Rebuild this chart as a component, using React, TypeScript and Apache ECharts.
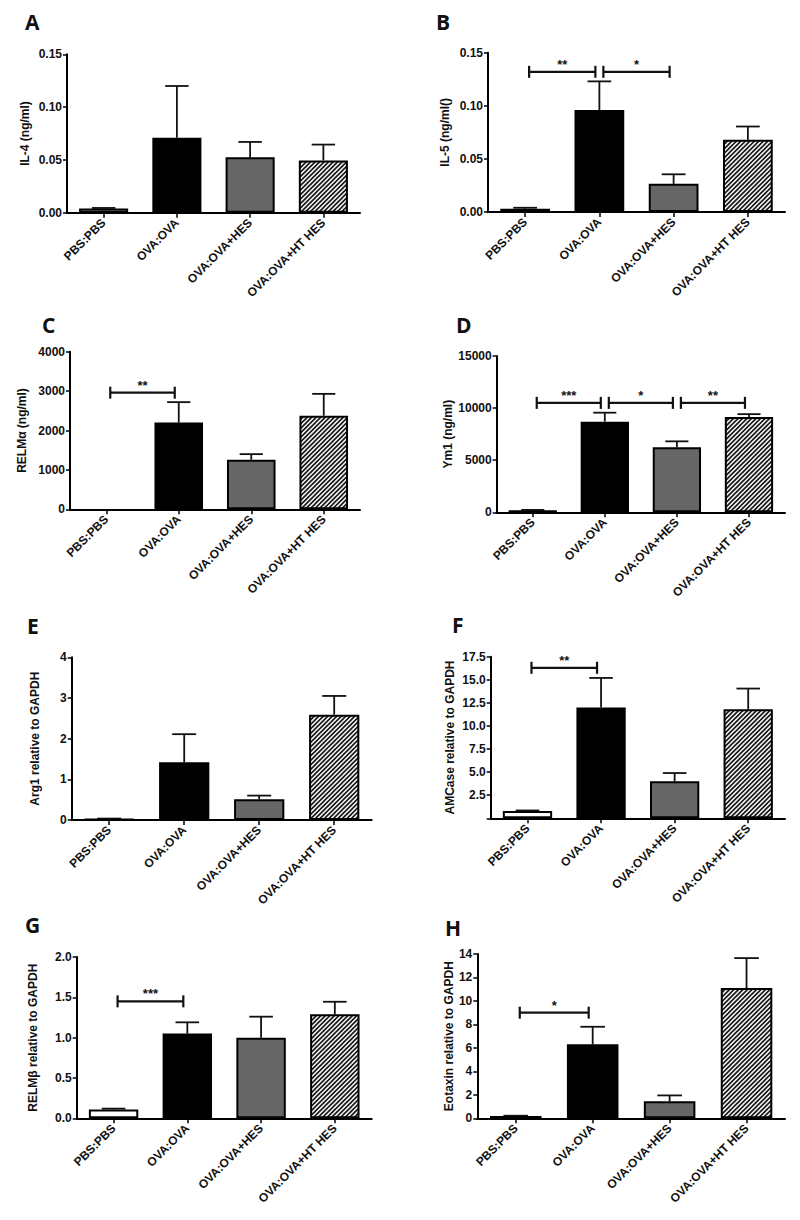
import React, { useEffect, useRef } from 'react';
import * as echarts from 'echarts';

const categories = ['PBS:PBS', 'OVA:OVA', 'OVA:OVA+HES', 'OVA:OVA+HT HES'];

// A: IL-4
const il4Mean = [0.004, 0.071, 0.0525, 0.0495];
const il4Sem = [0.0005, 0.049, 0.0145, 0.015];
// B: IL-5
const il5Mean = [0.003, 0.096, 0.0265, 0.068];
const il5Sem = [0.001, 0.027, 0.009, 0.0125];
const il5Brackets = [[0, 1, 0.132], [1, 2, 0.132]];
const il5Stars = ['**', '*'];
// C: RELMα
const relmaMean = [0, 2200, 1255, 2375];
const relmaSem = [0, 520, 145, 555];
const relmaBrackets = [[0, 1, 2960]];
const relmaStars = ['**'];
// D: Ym1
const ym1Mean = [200, 8700, 6250, 9150];
const ym1Sem = [30, 860, 560, 270];
const ym1Brackets = [[0, 1, 10500], [1, 2, 10500], [2, 3, 10500]];
const ym1Stars = ['***', '*', '**'];
// E: Arg1
const arg1Mean = [0.03, 1.42, 0.51, 2.59];
const arg1Sem = [0.005, 0.69, 0.09, 0.46];
// F: AMCase
const amcaseMean = [0.8, 12.0, 4.0, 11.8];
const amcaseSem = [0.05, 3.2, 0.9, 2.25];
const amcaseBrackets = [[0, 1, 16.3]];
const amcaseStars = ['**'];
// G: RELMβ
const relmbMean = [0.11, 1.05, 1.0, 1.29];
const relmbSem = [0.01, 0.14, 0.26, 0.155];
const relmbBrackets = [[0, 1, 1.45]];
const relmbStars = ['***'];
// H: Eotaxin
const eotaxinMean = [0.2, 6.3, 1.45, 11.1];
const eotaxinSem = [0.02, 1.5, 0.5, 2.55];
const eotaxinBrackets = [[0, 1, 9.0]];
const eotaxinStars = ['*'];

const FONT = '"Liberation Sans", Arial, sans-serif';

function makeHatch() {
  const s = 9;
  const c = document.createElement('canvas');
  c.width = s;
  c.height = s;
  const ctx = c.getContext('2d')!;
  ctx.fillStyle = '#ffffff';
  ctx.fillRect(0, 0, s, s);
  ctx.strokeStyle = '#1a1a1a';
  ctx.lineWidth = 1.7;
  for (let cc = -s; cc <= 3 * s; cc += s / 2) {
    ctx.beginPath();
    ctx.moveTo(cc - 2 * s, 2 * s);
    ctx.lineTo(cc + 2 * s, -2 * s);
    ctx.stroke();
  }
  return c;
}

type Panel = {
  letter: string;
  name: string;
  mean: number[];
  sem: number[];
  max: number;
  interval: number;
  dec: number;
  hideZero?: boolean;
  brackets: number[][];
  stars: string[];
  grid: { left: number; top: number; width: number; height: number };
  nameGap: number;
  letterPos: [number, number];
};

const panels: Panel[] = [
  { letter: 'A', name: 'IL-4 (ng/ml)', mean: il4Mean, sem: il4Sem, max: 0.15, interval: 0.05, dec: 2, brackets: [], stars: [],
    grid: { left: 67, top: 54.3, width: 293, height: 158.4 }, nameGap: 36, letterPos: [25, 22] },
  { letter: 'B', name: 'IL-5 (ng/ml()', mean: il5Mean, sem: il5Sem, max: 0.15, interval: 0.05, dec: 2, brackets: il5Brackets, stars: il5Stars,
    grid: { left: 488, top: 52.7, width: 297, height: 159.3 }, nameGap: 37.5, letterPos: [436, 22] },
  { letter: 'C', name: 'RELMα (ng/ml)', mean: relmaMean, sem: relmaSem, max: 4000, interval: 1000, dec: 0, brackets: relmaBrackets, stars: relmaStars,
    grid: { left: 70, top: 351.7, width: 290, height: 157.6 }, nameGap: 42, letterPos: [42, 325] },
  { letter: 'D', name: 'Ym1 (ng/ml)', mean: ym1Mean, sem: ym1Sem, max: 15000, interval: 5000, dec: 0, brackets: ym1Brackets, stars: ym1Stars,
    grid: { left: 496.7, top: 356, width: 288.3, height: 156.3 }, nameGap: 42, letterPos: [456, 325] },
  { letter: 'E', name: 'Arg1 relative to GAPDH', mean: arg1Mean, sem: arg1Sem, max: 4, interval: 1, dec: 0, brackets: [], stars: [],
    grid: { left: 71.7, top: 657.3, width: 300, height: 162.7 }, nameGap: 30.5, letterPos: [27, 626] },
  { letter: 'F', name: 'AMCase relative to GAPDH', mean: amcaseMean, sem: amcaseSem, max: 17.5, interval: 2.5, dec: 1, hideZero: true, brackets: amcaseBrackets, stars: amcaseStars,
    grid: { left: 490.7, top: 656.7, width: 294.3, height: 161.6 }, nameGap: 34.5, letterPos: [452, 625] },
  { letter: 'G', name: 'RELMβ relative to GAPDH', mean: relmbMean, sem: relmbSem, max: 2.0, interval: 0.5, dec: 1, brackets: relmbBrackets, stars: relmbStars,
    grid: { left: 76.7, top: 957, width: 295, height: 161.3 }, nameGap: 37.5, letterPos: [25, 925] },
  { letter: 'H', name: 'Eotaxin relative to GAPDH', mean: eotaxinMean, sem: eotaxinSem, max: 14, interval: 2, dec: 0, brackets: eotaxinBrackets, stars: eotaxinStars,
    grid: { left: 477.3, top: 954, width: 307.7, height: 164.3 }, nameGap: 21, letterPos: [445, 928] },
];

function buildOption(hatch: HTMLCanvasElement) {
  const fills: any[] = ['#ffffff', '#000000', '#666666', { image: hatch, repeat: 'repeat' }];
  const grid: any[] = [];
  const xAxis: any[] = [];
  const yAxis: any[] = [];
  const series: any[] = [];
  const graphic: any[] = [];

  panels.forEach((p, idx) => {
    grid.push({ ...p.grid, containLabel: false, outerBoundsMode: 'none' });
    xAxis.push({
      type: 'category',
      gridIndex: idx,
      data: categories,
      axisLine: { lineStyle: { color: '#000', width: 2 } },
      axisTick: { show: true, alignWithLabel: true, length: 5, lineStyle: { color: '#000', width: 1.5 } },
      axisLabel: { rotate: 45, margin: 8, color: '#111', fontFamily: FONT, fontWeight: 'bold', fontSize: 12, interval: 0 },
      splitLine: { show: false },
    });
    yAxis.push({
      type: 'value',
      gridIndex: idx,
      min: 0,
      max: p.max,
      interval: p.interval,
      name: p.name,
      nameLocation: 'middle',
      nameGap: p.nameGap,
      nameTextStyle: { color: '#111', fontFamily: FONT, fontWeight: 'bold', fontSize: 12 },
      axisLine: { show: true, lineStyle: { color: '#000', width: 2 } },
      axisTick: { show: true, length: 4, lineStyle: { color: '#000', width: 1.5 } },
      axisLabel: {
        margin: 5,
        color: '#111',
        fontFamily: FONT,
        fontWeight: 'bold',
        fontSize: 12,
        formatter: (v: number) => (p.hideZero && v === 0 ? '' : v.toFixed(p.dec)),
      },
      splitLine: { show: false },
    });
    series.push({
      type: 'bar',
      xAxisIndex: idx,
      yAxisIndex: idx,
      barWidth: '67%',
      data: p.mean.map((v, i) => ({ value: v, itemStyle: { color: fills[i], borderColor: '#000', borderWidth: v > 0 ? 2 : 0 } })),
      z: 3,
    });
    series.push({
      type: 'custom',
      xAxisIndex: idx,
      yAxisIndex: idx,
      z: 2,
      data: p.mean.map((v, i) => [i, v, v + p.sem[i]]),
      encode: { x: 0, y: [1, 2] },
      renderItem: (params: any, api: any) => {
        const i = api.value(0);
        const p0 = api.coord([i, api.value(1)]);
        const p1 = api.coord([i, api.value(2)]);
        const half = api.size([1, 0])[0] * 0.16;
        if (api.value(2) <= api.value(1)) return { type: 'group', children: [] };
        return {
          type: 'group',
          children: [
            { type: 'line', shape: { x1: p0[0], y1: p0[1], x2: p1[0], y2: p1[1] }, style: { stroke: '#111', lineWidth: 1.8 } },
            { type: 'line', shape: { x1: p1[0] - half, y1: p1[1], x2: p1[0] + half, y2: p1[1] }, style: { stroke: '#111', lineWidth: 1.8 } },
          ],
        };
      },
    });
    if (p.brackets.length) {
      series.push({
        type: 'custom',
        xAxisIndex: idx,
        yAxisIndex: idx,
        z: 4,
        data: p.brackets,
        encode: { x: [0, 1], y: 2 },
        renderItem: (params: any, api: any) => {
          const a = api.coord([api.value(0), api.value(2)]);
          const b = api.coord([api.value(1), api.value(2)]);
          const x0 = a[0] + 4;
          const x1 = b[0] - 4;
          const y = a[1];
          const st = { stroke: '#111', lineWidth: 2.2 };
          return {
            type: 'group',
            children: [
              { type: 'line', shape: { x1: x0, y1: y, x2: x1, y2: y }, style: st },
              { type: 'line', shape: { x1: x0, y1: y - 6, x2: x0, y2: y + 6 }, style: st },
              { type: 'line', shape: { x1: x1, y1: y - 6, x2: x1, y2: y + 6 }, style: st },
              {
                type: 'text',
                x: (x0 + x1) / 2,
                y: y - 1,
                style: { text: p.stars[params.dataIndex], fill: '#111', font: `bold 13px ${FONT}`, align: 'center', verticalAlign: 'bottom' },
              },
            ],
          };
        },
      });
    }
    graphic.push({
      type: 'text',
      x: p.letterPos[0],
      y: p.letterPos[1],
      style: { text: p.letter, fill: '#111', font: 'bold 21px "Open Sans", "DejaVu Sans", sans-serif', align: 'left', verticalAlign: 'middle' },
    });
  });

  return { animation: false, backgroundColor: '#ffffff', grid, xAxis, yAxis, series, graphic };
}

export default function App() {
  const ref = useRef<HTMLDivElement>(null);
  useEffect(() => {
    document.body.style.margin = '0';
    if (!ref.current) return;
    const chart = echarts.init(ref.current, null, { renderer: 'svg' });
    chart.setOption(buildOption(makeHatch()) as any);
    return () => chart.dispose();
  }, []);
  return <div ref={ref} style={{ position: 'absolute', left: 0, top: 0, width: 800, height: 1220, background: '#fff' }} />;
}
